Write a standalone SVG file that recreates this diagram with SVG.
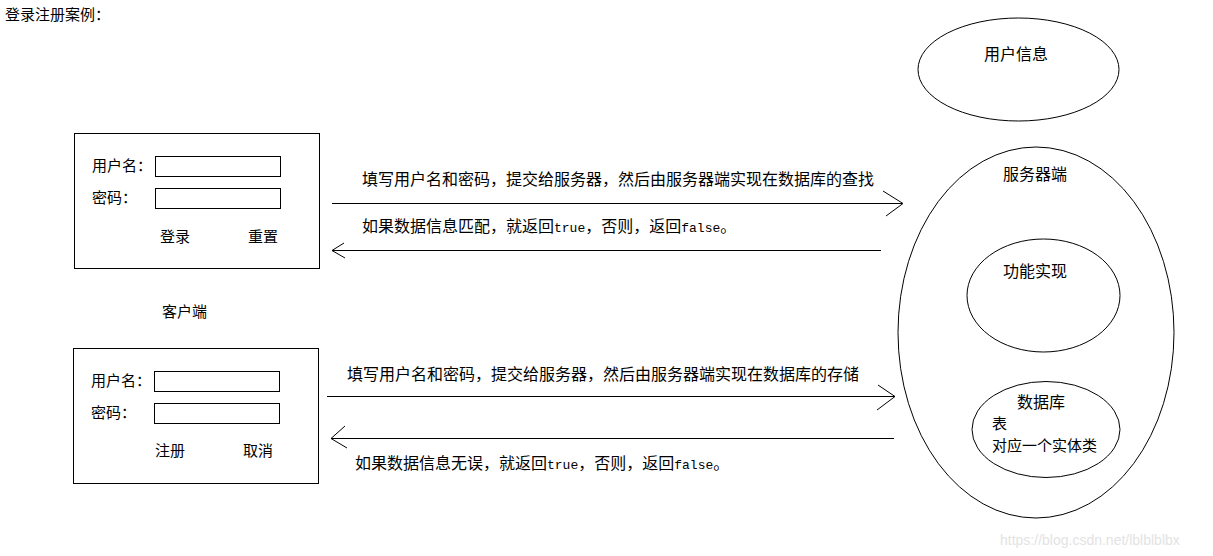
<svg xmlns="http://www.w3.org/2000/svg" width="1213" height="556" viewBox="0 0 1213 556">
<style>
text{font-family:"Noto Sans CJK SC","Liberation Sans",sans-serif;fill:#000;}
.s15{font-size:15px;}
.s16{font-size:16px;}
.mono{font-family:"Liberation Mono",monospace;font-size:13px;}
.box{fill:#fff;stroke:#000;stroke-width:1;}
.ell{fill:none;stroke:#000;stroke-width:1;}
.ln{fill:none;stroke:#000;stroke-width:1;}
.wm{font-family:"Liberation Sans",Arial,sans-serif;font-size:14px;fill:#e3e3e3;}
</style>
<rect width="1213" height="556" fill="#fff"/>
<text id="title" class="s15" x="5" y="20">登录注册案例：</text>

<g id="login-form">
<rect class="box" x="74.5" y="133.5" width="245" height="135"/>
<text class="s15" x="92" y="171">用户名：</text>
<rect class="box" x="155.5" y="156.5" width="125" height="20"/>
<text class="s15" x="92" y="203">密码：</text>
<rect class="box" x="155.5" y="188.5" width="125" height="20"/>
<text class="s15" x="160" y="242">登录</text>
<text class="s15" x="248" y="242">重置</text>
</g>

<g id="client-label">
<text class="s15" x="162" y="317">客户端</text>
</g>

<g id="register-form">
<rect class="box" x="73.5" y="348.5" width="245" height="135"/>
<text class="s15" x="91" y="386">用户名：</text>
<rect class="box" x="154.5" y="371.5" width="125" height="20"/>
<text class="s15" x="91" y="418">密码：</text>
<rect class="box" x="154.5" y="403.5" width="125" height="20"/>
<text class="s15" x="155" y="456">注册</text>
<text class="s15" x="243" y="456">取消</text>
</g>

<g id="user-info">
<ellipse class="ell" cx="1018.5" cy="69.5" rx="100.5" ry="51.5"/>
<text class="s16" x="984" y="60">用户信息</text>
</g>

<g id="server">
<ellipse class="ell" cx="1036" cy="332.5" rx="138" ry="185.5"/>
<text class="s16" x="1003" y="180">服务器端</text>
</g>

<g id="function">
<ellipse class="ell" cx="1043.5" cy="295.5" rx="76.5" ry="56.5"/>
<text class="s16" x="1003" y="277">功能实现</text>
</g>

<g id="database">
<ellipse class="ell" cx="1046" cy="429.5" rx="74" ry="48"/>
<text class="s16" x="1017" y="408">数据库</text>
<text class="s15" x="992" y="429">表</text>
<text class="s15" x="992" y="451">对应一个实体类</text>
</g>

<g id="connectors">
<line class="ln" x1="332" y1="203.5" x2="902" y2="203.5"/>
<polyline class="ln" points="883,191 903,203.5 886,216"/>
<text class="s16" x="362" y="185">填写用户名和密码，提交给服务器，然后由服务器端实现在数据库的查找</text>

<line class="ln" x1="332" y1="250.5" x2="881" y2="250.5"/>
<polyline class="ln" points="344,243 332,250.5 345,258"/>
<text class="s16" x="362" y="232">如果数据信息匹配，就返回<tspan class="mono">true</tspan>，否则，返回<tspan class="mono">false</tspan>。</text>

<line class="ln" x1="327" y1="396.5" x2="895" y2="396.5"/>
<polyline class="ln" points="878,385 895,396.5 877,410"/>
<text class="s16" x="347" y="380">填写用户名和密码，提交给服务器，然后由服务器端实现在数据库的存储</text>

<line class="ln" x1="331" y1="438.5" x2="894" y2="438.5"/>
<polyline class="ln" points="345,426 331,438.5 347,448"/>
<text class="s16" x="355" y="469">如果数据信息无误，就返回<tspan class="mono">true</tspan>，否则，返回<tspan class="mono">false</tspan>。</text>
</g>

<text class="wm" x="1000" y="545">https://blog.csdn.net/lblblblbx</text>
</svg>
